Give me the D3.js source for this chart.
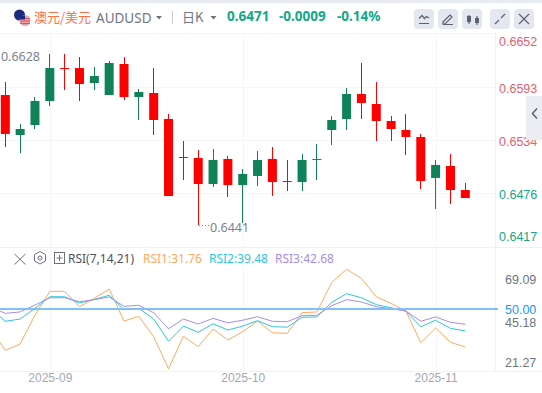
<!DOCTYPE html>
<html>
<head>
<meta charset="utf-8">
<style>
html, body { margin: 0; padding: 0; background: #fff; overflow: hidden; }
svg { display: block; font-family: "Noto Sans", "Noto Sans CJK SC", sans-serif; }
.tick line { shape-rendering: crispEdges; }
</style>
</head>
<body>
<svg width="542" height="393"></svg>
<script src="https://cdn.jsdelivr.net/npm/d3@7"></script>
<script>
const opens = [.65843, .65403, .65513, .65777, .66140, .66140, .65975, .65843, .66184, .65821, .65865, .65579, .65161, .65150, .64863, .65139, .64852, .64952, .65139, .64896, .64885, .65128, .65458, .65579, .65854, .65744, .65557, .65458, .65381, .64930, .65062, .64797]
const closes = [.65414, .65469, .65777, .66140, .66132, .65964, .66052, .66195, .65821, .65876, .65568, .64731, .65150, .64863, .65128, .64852, .64974, .65128, .64885, .64885, .65128, .65139, .65568, .65854, .65755, .65557, .65469, .65381, .64896, .65073, .64797, .64709]
const highs = [.65986, .65524, .65818, .66294, .66294, .66261, .66151, .66217, .66261, .65909, .66140, .65634, .65337, .65238, .65249, .65172, .65029, .65227, .65274, .65128, .65194, .65304, .65612, .65920, .66195, .65986, .65612, .65634, .65414, .65128, .65194, .64874]
const lows = [.65274, .65208, .65469, .65722, .65898, .65777, .65898, .65843, .65788, .65568, .65403, .64731, .64907, .64412, .64830, .64720, .64434, .64841, .64731, .64786, .64786, .64907, .65293, .65458, .65579, .65337, .65337, .65183, .64808, .64588, .64643, .64709]

// rsi arrays start one day before the first visible candle
const rsi1 = [41.0, 30.1, 33.2, 47.1, 58.5, 58.5, 51.1, 55.1, 59.6, 44.2, 46.5, 36.7, 21.27, 36.9, 31.9, 40.4, 35.1, 39.1, 44.2, 38.6, 38.3, 48.2, 48.6, 62.8, 69.09, 64.7, 55.9, 52.7, 49.0, 33.8, 40.9, 34.0, 31.76]
const rsi2 = [50.3, 44.1, 45.2, 50.3, 55.9, 55.9, 52.9, 54.6, 56.6, 49.7, 50.3, 45.2, 34.5, 41.8, 38.8, 42.9, 39.9, 41.8, 44.4, 41.5, 41.3, 46.0, 46.2, 53.2, 57.4, 55.4, 52.1, 50.6, 49.0, 41.5, 44.6, 40.7, 39.48]
const rsi3 = [51.1, 47.9, 48.6, 51.9, 55.4, 55.4, 53.5, 54.5, 55.8, 51.3, 51.8, 48.2, 40.5, 45.2, 42.8, 45.5, 43.4, 44.6, 46.3, 44.1, 43.9, 46.8, 47.0, 51.6, 54.5, 53.4, 51.1, 50.2, 49.0, 44.1, 46.2, 43.6, 42.68]

const priceTicks = [0.6652, 0.6593, 0.6534, 0.6476, 0.6417]
const rsiTicks = [69.09, 50.00, 45.18, 21.27]
const dateTicks = [3, 16, 29]
const dateLabels = ['2025-09', '2025-10', '2025-11']
const prevClose = 0.6480

const up = '#0f8257', down = '#ff0000'
const tealText = '#12a888', redText = '#e4606d'
const gridColor = '#f4f5f8'

const svg = d3.select('svg')
const axisX = 495

const x = d3.scaleLinear().domain([0, 31]).range([5.3, 465.3])
const y = d3.scaleLinear().domain([0.6417, 0.6652]).range([247, 33.5])
const yRsi = d3.scaleLinear().domain([21.27, 69.09]).range([368.8, 269.3])

// page frame
svg.append('rect').attr('width', 542).attr('height', 3).attr('fill', '#e8ebf2')

// grid
svg.append('g').attr('transform', 'translate(0,371)')
    .call(d3.axisBottom(x).tickValues(dateTicks).tickSize(-338).tickPadding(2).tickFormat((d, i) => dateLabels[i]))
    .call(g => g.select('.domain').remove())
    .call(g => g.selectAll('line').attr('stroke', gridColor))
    .call(g => g.selectAll('text').attr('fill', '#a4a8b4').attr('font-size', 12).attr('dy', '0.71em').attr('y', 2))

const priceAxis = svg.append('g').attr('transform', `translate(${axisX},0)`)
    .call(d3.axisRight(y).tickValues(priceTicks).tickSize(0).tickPadding(4).tickFormat(d3.format('.4f')))
priceAxis.select('.domain').remove()
priceAxis.selectAll('.tick text')
    .attr('font-size', 12.5)
    .attr('fill', d => d > prevClose ? redText : tealText)
    .attr('y', d => Math.max(41, Math.min(236, y(d) + 1)) - y(d))

svg.append('g').selectAll('line').data(priceTicks).enter().append('line')
    .attr('x1', 0).attr('x2', axisX).attr('y1', d => y(d)).attr('y2', d => y(d))
    .attr('stroke', gridColor).attr('shape-rendering', 'crispEdges')

svg.append('line').attr('x1', axisX + .5).attr('x2', axisX + .5).attr('y1', 33).attr('y2', 371).attr('stroke', '#f0f1f4')
svg.append('line').attr('x1', 0).attr('x2', 542).attr('y1', 371.5).attr('y2', 371.5).attr('stroke', '#f0f1f4')

// candles
const candles = svg.append('g').selectAll('g').data(opens).enter().append('g')
    .attr('fill', (d, i) => closes[i] < d ? down : up)
    .attr('stroke', (d, i) => closes[i] < d ? down : up)
candles.append('line')
    .attr('x1', (d, i) => x(i)).attr('x2', (d, i) => x(i))
    .attr('y1', (d, i) => y(highs[i])).attr('y2', (d, i) => y(lows[i]))
    .attr('shape-rendering', 'crispEdges')
candles.append('rect')
    .attr('x', (d, i) => x(i) - 4.5).attr('width', 9)
    .attr('y', (d, i) => y(Math.max(d, closes[i])))
    .attr('height', (d, i) => Math.max(1, Math.abs(y(d) - y(closes[i]))))
    .attr('stroke', 'none')

// high and low notes
svg.append('text').attr('x', 40).attr('y', 61).attr('text-anchor', 'end')
    .attr('font-size', 12.5).attr('fill', '#7d8290').text('0.6628')
svg.append('text').attr('x', 210).attr('y', 232)
    .attr('font-size', 12.5).attr('fill', '#7d8290').text('0.6441')
svg.append('line').attr('x1', 199).attr('x2', 209).attr('y1', 225.5).attr('y2', 225.5)
    .attr('stroke', '#7d8290').attr('stroke-dasharray', '1 2')

// rsi
const rsiLine = d3.line().x((d, i) => x(i - 1)).y(d => yRsi(d))
const rsiSeries = [[rsi1, '#ffa95e'], [rsi2, '#2ec6dd'], [rsi3, '#a78de6']]
svg.append('g').selectAll('path').data(rsiSeries).enter().append('path')
    .attr('d', d => rsiLine(d[0])).attr('fill', 'none').attr('stroke', d => d[1]).attr('stroke-width', 1)

svg.append('line').attr('x1', 0).attr('x2', axisX + 3).attr('y1', yRsi(50)).attr('y2', yRsi(50))
    .attr('stroke', '#80c0f6').attr('stroke-width', 2)

const rsiAxis = svg.append('g').attr('transform', `translate(${axisX},0)`)
    .call(d3.axisRight(yRsi).tickValues(rsiTicks).tickSize(0).tickPadding(10).tickFormat(d3.format('.2f')))
rsiAxis.select('.domain').remove()
rsiAxis.selectAll('.tick text')
    .attr('font-size', 12.5)
    .attr('fill', d => d === 50 ? '#2196f3' : '#6f7482')
    .attr('y', d => {
        const pos = d === 45.18 ? 322 : Math.max(280, Math.min(362, yRsi(d)))
        return pos - yRsi(d)
    })

// rsi header
svg.append('line').attr('x1', 0).attr('x2', 542).attr('y1', 247.5).attr('y2', 247.5).attr('stroke', '#f0f1f4')
const rsiHead = [['RSI(7,14,21)', 68, '#4c5160'], ['RSI1:31.76', 143, '#ffa95e'], ['RSI2:39.48', 209, '#2ec6dd'], ['RSI3:42.68', 275, '#a78de6']]
svg.append('g').selectAll('text').data(rsiHead).enter().append('text')
    .attr('x', d => d[1]).attr('y', 263).attr('font-size', 12).attr('fill', d => d[2]).text(d => d[0])
svg.append('path').attr('d', 'M14.5 254L25.5 264.5M25.5 254L14.5 264.5').attr('stroke', '#6c7180').attr('fill', 'none')
svg.append('path').attr('d', 'M40 251.5l5.5 3v6.5l-5.5 3l-5.5-3v-6.5z').attr('stroke', '#6c7180').attr('fill', 'none')
svg.append('circle').attr('cx', 40).attr('cy', 258).attr('r', 2).attr('stroke', '#6c7180').attr('fill', 'none')
svg.append('rect').attr('x', 54.5).attr('y', 252.5).attr('width', 10).attr('height', 11).attr('stroke', '#6c7180').attr('fill', 'none')
svg.append('path').attr('d', 'M59.5 255v6M56.5 258h6').attr('stroke', '#6c7180').attr('fill', 'none')

// top bar
const flag = svg.append('g')
flag.append('circle').attr('cx', 19.5).attr('cy', 15).attr('r', 5.5).attr('fill', '#1a2a7c')
flag.append('circle').attr('cx', 25).attr('cy', 20.5).attr('r', 5.5).attr('fill', '#e9a3a8')
flag.append('path').attr('d', 'M20 18.5h10M20 21h10M20 23.5h10').attr('stroke', '#d8434e').attr('stroke-width', .8)
flag.append('rect').attr('x', 20).attr('y', 15.5).attr('width', 5).attr('height', 4).attr('fill', '#1a2a7c')

svg.append('text').attr('x', 34).attr('y', 22).attr('font-size', 13).attr('fill', '#ff7043')
    .attr('font-family', '"Noto Sans CJK SC"').text('澳元/美元')
svg.append('text').attr('x', 96).attr('y', 23).attr('font-size', 13.5).attr('fill', '#6f7482').text('AUDUSD')
svg.append('path').attr('d', 'M156 16h6l-3 3.5z').attr('fill', '#6f7482')
svg.append('line').attr('x1', 172.5).attr('x2', 172.5).attr('y1', 11).attr('y2', 24).attr('stroke', '#c9ccd4')
svg.append('text').attr('x', 182).attr('y', 22).attr('font-size', 13).attr('fill', '#6f7482')
    .attr('font-family', '"Noto Sans CJK SC"').text('日K')
svg.append('path').attr('d', 'M210.5 16h6l-3 3.5z').attr('fill', '#6f7482')

const quote = [['0.6471', 227], ['-0.0009', 279], ['-0.14%', 337]]
svg.append('g').selectAll('text').data(quote).enter().append('text')
    .attr('x', d => d[1]).attr('y', 21).attr('font-size', 13.5).attr('font-weight', 700)
    .attr('fill', tealText).text(d => d[0])

// tool buttons
const buttonX = [414, 438, 462, 490, 514]
svg.append('g').selectAll('rect').data(buttonX).enter().append('rect')
    .attr('x', d => d).attr('y', 9).attr('width', 20).attr('height', 20).attr('rx', 4).attr('fill', '#e4e7f0')
const icon = { stroke: '#5c6170', fill: 'none' }
const iconPaths = [
    'M419 18.5l3-3l2.5 3l2-2l2.5 1.500M419 23.5h10',
    'M443 22l7-7l2 2l-7 7h-2zM443 24.5h10',
    'M469 15v9M477 16v9',
    'M495 24l4-4M505 14l-4 4',
    'M519 14l10 10M529 14l-10 10'
]
svg.append('g').selectAll('path').data(iconPaths).enter().append('path')
    .attr('d', d => d).attr('stroke', icon.stroke).attr('fill', icon.fill).attr('stroke-width', 1.2)
svg.append('rect').attr('x', 467).attr('y', 16).attr('width', 4).attr('height', 6).attr('fill', icon.stroke)
svg.append('rect').attr('x', 475).attr('y', 18).attr('width', 4).attr('height', 5).attr('fill', icon.stroke)

// side tab
svg.append('rect').attr('x', 526).attr('y', 96).attr('width', 16).attr('height', 44).attr('fill', '#ecedf3')
svg.append('path').attr('d', 'M537 108.5l-4.5 5l4.5 5').attr('stroke', '#5c6170').attr('stroke-width', 1.5).attr('fill', 'none')
</script>
</body>
</html>
